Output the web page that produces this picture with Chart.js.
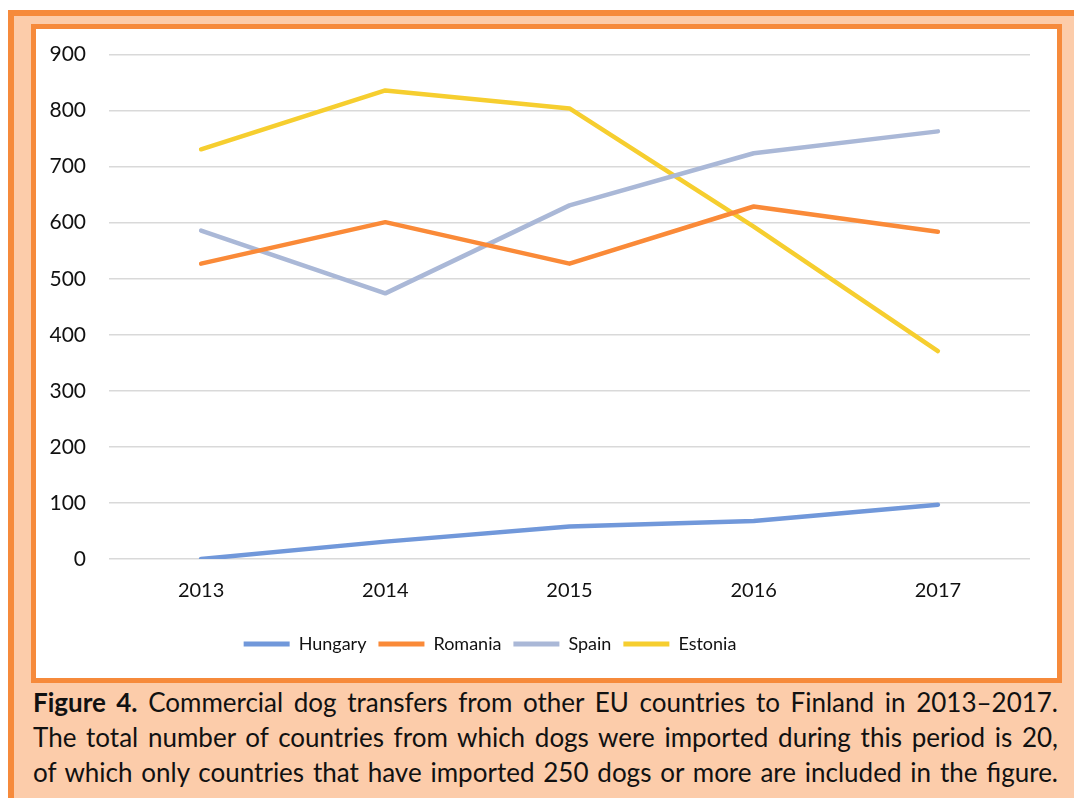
<!DOCTYPE html>
<html>
<head>
<meta charset="utf-8">
<script src="https://cdn.jsdelivr.net/npm/chart.js@4/dist/chart.umd.min.js"></script>
<style>
  html, body { margin: 0; padding: 0; background: #ffffff; width: 1074px; height: 798px; overflow: hidden; }
  #outer { position: absolute; left: 8px; top: 10px; width: 1100px; height: 820px; background: #FCCCAA; border: 6px solid #F68A3B; box-sizing: border-box; }
  #inner { position: absolute; left: 31px; top: 24px; width: 1031px; height: 659px; background: #ffffff; border: 5px solid #F68A3B; box-sizing: border-box; }
  #wrap { position: absolute; left: 0; top: -10px; width: 1021px; height: 659px; }
  #caption { position: absolute; left: 33px; top: 685px; width: 1025px; font-family: Lato, "Open Sans", sans-serif; font-size: 26px; color: #111; }
  #caption div { white-space: nowrap; text-align: justify; text-align-last: justify; height: 35px; line-height: 35px; }
</style>
</head>
<body>
<div id="outer"></div>
<div id="inner"><div id="wrap"><canvas id="c"></canvas></div></div>
<div id="caption">
  <div><b>Figure 4.</b> Commercial dog transfers from other EU countries to Finland in 2013–2017.</div>
  <div>The total number of countries from which dogs were imported during this period is 20,</div>
  <div>of which only countries that have imported 250 dogs or more are included in the figure.</div>
</div>
<script>
const years = ["2013", "2014", "2015", "2016", "2017"];
const hungary = [0, 31, 58, 68, 97];
const romania = [527, 601, 527, 629, 584];
const spain = [586, 474, 631, 724, 763];
const estonia = [731, 836, 804, 593, 371];
const yTicks = [0, 100, 200, 300, 400, 500, 600, 700, 800, 900];

// fit caption font so no line overflows
(function fit() {
  const cap = document.getElementById('caption');
  const lines = cap.querySelectorAll('div');
  let size = 26;
  const ctx = document.createElement('canvas').getContext('2d');
  function w(el, s) {
    let total = 0;
    el.childNodes.forEach(n => {
      const bold = n.nodeName === 'B';
      ctx.font = (bold ? 'bold ' : '') + s + 'px Lato';
      total += ctx.measureText(n.textContent).width;
    });
    return total;
  }
  while (size > 16) {
    let ok = true;
    lines.forEach(l => { if (w(l, size) > 1018) ok = false; });
    if (ok) break;
    size -= 0.25;
  }
  cap.style.fontSize = size + 'px';
})();

const font = "Lato, 'Open Sans', sans-serif";
function ds(label, data, color) {
  return { label, data, borderColor: color, backgroundColor: color, borderWidth: 4.5,
    borderCapStyle: 'round', borderJoinStyle: 'round', pointRadius: 0, pointHoverRadius: 0, tension: 0, fill: false };
}
const legendShift = {
  id: 'legendShift',
  afterLayout(chart) {
    if (chart.legend) { chart.legend.left -= 43; chart.legend.right -= 43; }
  }
};
new Chart(document.getElementById('c'), {
  type: 'line',
  data: {
    labels: years,
    datasets: [
      ds('Hungary', hungary, '#7198DA'),
      ds('Romania', romania, '#FA8A38'),
      ds('Spain', spain, '#AAB8D7'),
      ds('Estonia', estonia, '#F6CE2F')
    ]
  },
  plugins: [legendShift],
  options: {
    responsive: true,
    maintainAspectRatio: false,
    animation: false,
    layout: { padding: { top: 7, right: 27, left: 0, bottom: 15 } },
    plugins: {
      tooltip: { enabled: false },
      legend: {
        position: 'bottom',
        labels: {
          color: '#111',
          font: { family: font, size: 18 },
          boxWidth: 46,
          boxHeight: 5,
          useBorderRadius: true,
          borderRadius: 2.5,
          padding: 12,
          generateLabels(chart) {
            return chart.data.datasets.map((d, i) => ({
              text: d.label, fillStyle: d.borderColor, strokeStyle: d.borderColor, lineWidth: 0,
              datasetIndex: i, hidden: false, fontColor: '#111'
            }));
          }
        }
      }
    },
    scales: {
      x: {
        offset: true,
        grid: { display: false, drawTicks: false, offset: true },
        border: { display: false },
        ticks: { color: '#111', font: { family: font, size: 20 }, padding: 20 }
      },
      y: {
        min: 0, max: 900,
        afterBuildTicks(axis) { axis.ticks = yTicks.map(v => ({ value: v })); },
        afterFit(axis) { axis.width = 73; },
        grid: { color: '#D9D9D9', lineWidth: 1.5, drawTicks: false },
        border: { display: false },
        ticks: { color: '#111', font: { family: font, size: 21 }, padding: 23 }
      }
    }
  }
});
</script>
</body>
</html>
